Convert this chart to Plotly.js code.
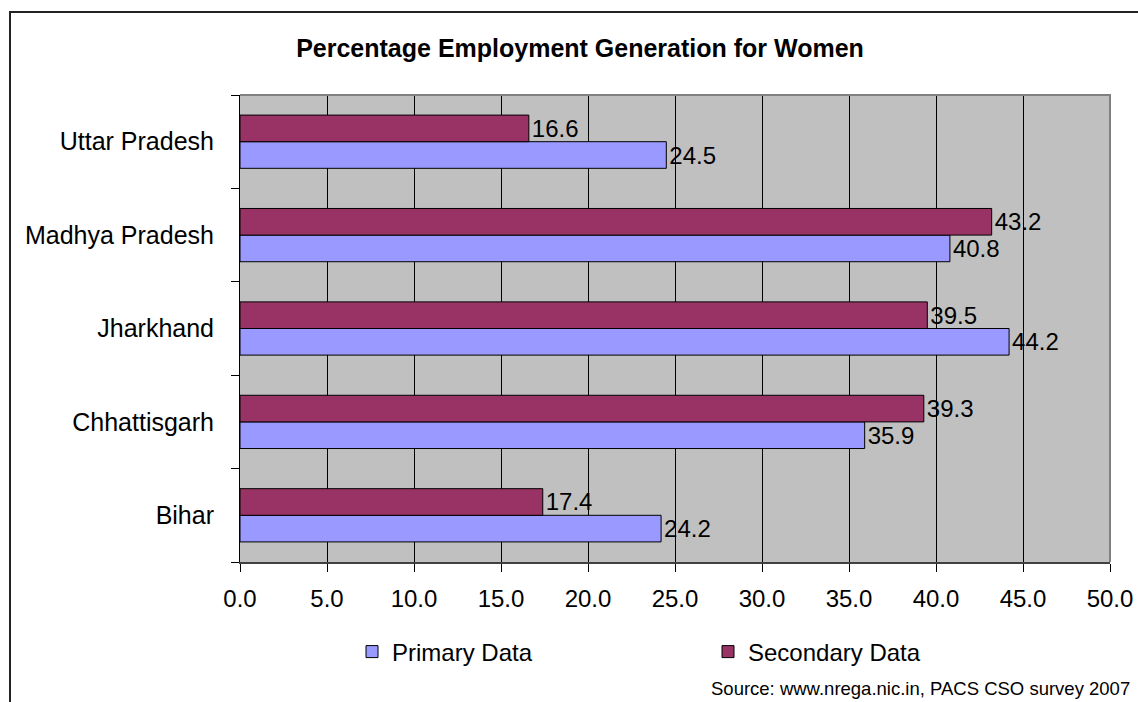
<!DOCTYPE html>
<html>
<head>
<meta charset="utf-8">
<script src="https://cdn.plot.ly/plotly-3.0.1.min.js"></script>
<style>
  html, body { margin: 0; padding: 0; background: #ffffff; }
  #chart { width: 1138px; height: 702px; }
</style>
</head>
<body>
<div id="chart"></div>
<script>
// States, listed bottom to top on the category axis
const states = ["Bihar", "Chhattisgarh", "Jharkhand", "Madhya Pradesh", "Uttar Pradesh"];

// Share of employment generated for women (%)
const primaryData = [24.2, 35.9, 44.2, 40.8, 24.5];
const secondaryData = [17.4, 39.3, 39.5, 43.2, 16.6];

const seriesNames = ["Primary Data", "Secondary Data"];
const chartTitle = "Percentage Employment Generation for Women";
const sourceNote = "Source: www.nrega.nic.in, PACS CSO survey 2007";

const FONT = "Liberation Sans, Arial, sans-serif";

// Plot area in pixels, used to place the frame, legend and note
const W = 1138, H = 702;
const M = { l: 240, r: 28, t: 95, b: 140 };
const pw = W - M.l - M.r, ph = H - M.t - M.b;
const px = x => (x - M.l) / pw;
const py = y => (H - M.b - y) / ph;

function barTrace(name, values, color) {
  return {
    type: "bar",
    orientation: "h",
    name: name,
    y: states,
    x: values,
    text: values.map(v => v.toFixed(1)),
    textposition: "outside",
    constraintext: "none",
    cliponaxis: false,
    textfont: { family: FONT, size: 24, color: "#000000" },
    marker: { color: color, line: { color: "#000000", width: 1 } },
    hoverinfo: "x+y"
  };
}

const traces = [
  barTrace(seriesNames[0], primaryData, "#9999FF"),
  barTrace(seriesNames[1], secondaryData, "#993366")
];

const layout = {
  width: W,
  height: H,
  margin: Object.assign({ autoexpand: false }, M),
  paper_bgcolor: "#ffffff",
  plot_bgcolor: "#C0C0C0",
  font: { family: FONT, size: 24, color: "#000000" },
  title: {
    text: "<b>" + chartTitle + "</b>",
    font: { family: FONT, size: 25, color: "#000000" },
    xref: "container", yref: "container",
    x: 580 / W, y: 1 - 48 / H,
    xanchor: "center", yanchor: "middle"
  },
  barmode: "group",
  bargap: 0.43,
  bargroupgap: 0,
  showlegend: true,
  legend: {
    orientation: "h",
    x: px(352), y: py(652),
    xanchor: "left", yanchor: "middle",
    entrywidth: 311, entrywidthmode: "pixels",
    traceorder: "normal",
    font: { family: FONT, size: 24, color: "#000000" },
    bgcolor: "rgba(0,0,0,0)"
  },
  xaxis: {
    automargin: false,
    range: [0, 50],
    tick0: 0, dtick: 5,
    tickformat: ".1f",
    ticks: "outside", ticklen: 8, tickcolor: "#000000",
    ticklabelstandoff: 6,
    showgrid: true, gridcolor: "#000000", gridwidth: 1,
    showline: true, linecolor: "#404040", linewidth: 2,
    zeroline: false,
    tickfont: { family: FONT, size: 24, color: "#000000" },
    fixedrange: true
  },
  yaxis: {
    automargin: false,
    type: "category",
    categoryorder: "array",
    categoryarray: states,
    ticks: "outside", ticklen: 8, tickcolor: "#000000",
    tickson: "boundaries",
    showgrid: false,
    showline: true, linecolor: "#000000", linewidth: 1,
    ticklabelstandoff: 20,
    tickfont: { family: FONT, size: 25, color: "#000000" },
    fixedrange: true
  },
  shapes: [
    // gray frame on the top and right of the plot area
    {
      type: "path", xref: "paper", yref: "paper",
      path: "M 0 1 L 1 1 L 1 0",
      line: { color: "#808080", width: 2 }
    },
    // outer chart frame (left and top edges)
    {
      type: "path", xref: "paper", yref: "paper",
      path: `M ${px(10)} ${py(720)} L ${px(10)} ${py(12)} L ${px(1150)} ${py(12)}`,
      line: { color: "#222222", width: 2 }
    }
  ],
  annotations: [
    {
      text: sourceNote,
      xref: "paper", yref: "paper",
      x: px(1132), y: py(688),
      xanchor: "right", yanchor: "middle",
      showarrow: false,
      font: { family: FONT, size: 18.5, color: "#000000" }
    }
  ]
};

Plotly.newPlot("chart", traces, layout, { displayModeBar: false, staticPlot: true });
</script>
</body>
</html>
